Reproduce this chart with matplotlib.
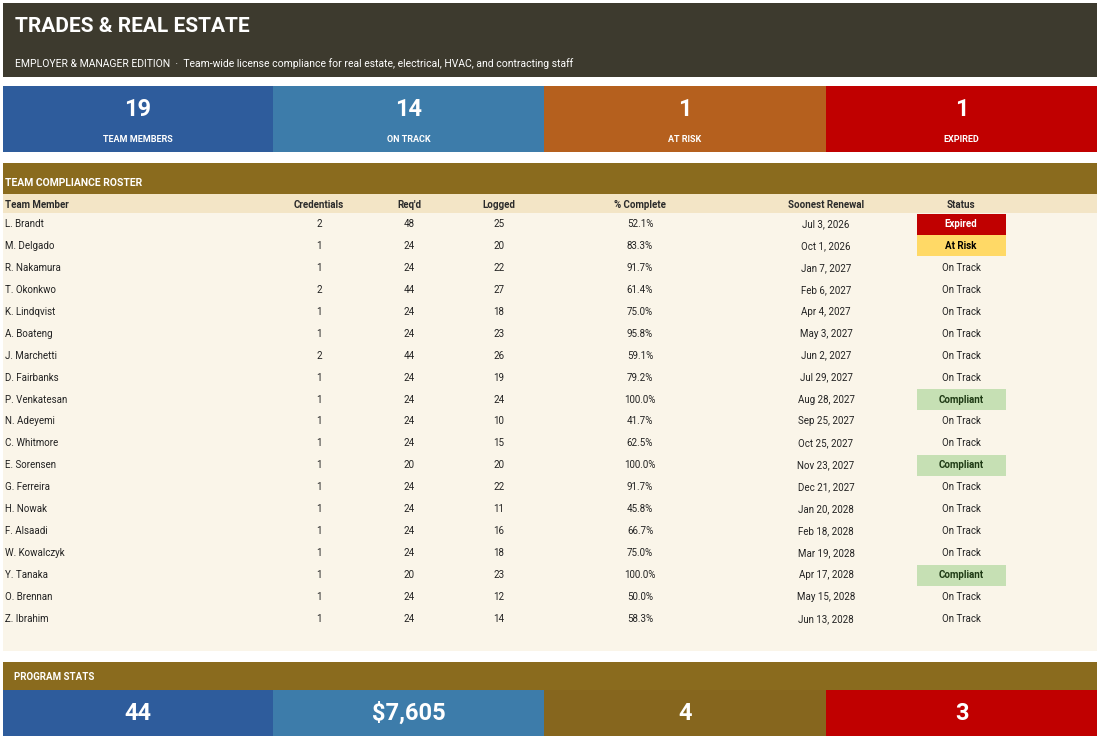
import matplotlib.pyplot as plt
from matplotlib.patches import Rectangle

plt.rcParams['font.family'] = ['Roboto', 'DejaVu Sans']

kpi_values = ['19', '14', '1', '1']
kpi_labels = ['TEAM MEMBERS', 'ON TRACK', 'AT RISK', 'EXPIRED']
stat_values = ['44', '$7,605', '4', '3']

columns = ['Team Member', 'Credentials', "Req'd", 'Logged', '% Complete', 'Soonest Renewal', 'Status']
names = ['L. Brandt', 'M. Delgado', 'R. Nakamura', 'T. Okonkwo', 'K. Lindqvist', 'A. Boateng',
         'J. Marchetti', 'D. Fairbanks', 'P. Venkatesan', 'N. Adeyemi', 'C. Whitmore', 'E. Sorensen',
         'G. Ferreira', 'H. Nowak', 'F. Alsaadi', 'W. Kowalczyk', 'Y. Tanaka', 'O. Brennan', 'Z. Ibrahim']
credentials = [2, 1, 1, 2, 1, 1, 2, 1, 1, 1, 1, 1, 1, 1, 1, 1, 1, 1, 1]
required = [48, 24, 24, 44, 24, 24, 44, 24, 24, 24, 24, 20, 24, 24, 24, 24, 20, 24, 24]
logged = [25, 20, 22, 27, 18, 23, 26, 19, 24, 10, 15, 20, 22, 11, 16, 18, 23, 12, 14]
renewals = ['Jul 3, 2026', 'Oct 1, 2026', 'Jan 7, 2027', 'Feb 6, 2027', 'Apr 4, 2027', 'May 3, 2027',
            'Jun 2, 2027', 'Jul 29, 2027', 'Aug 28, 2027', 'Sep 25, 2027', 'Oct 25, 2027', 'Nov 23, 2027',
            'Dec 21, 2027', 'Jan 20, 2028', 'Feb 18, 2028', 'Mar 19, 2028', 'Apr 17, 2028', 'May 15, 2028',
            'Jun 13, 2028']
statuses = ['Expired', 'At Risk', 'On Track', 'On Track', 'On Track', 'On Track', 'On Track', 'On Track',
            'Compliant', 'On Track', 'On Track', 'Compliant', 'On Track', 'On Track', 'On Track',
            'On Track', 'Compliant', 'On Track', 'On Track']

DARK = '#3D3A2E'
GOLD = '#8A6B1E'
tile_colors = ['#2E5C9C', '#3D7CAA', '#B5601E', '#C00000']
stat_colors = ['#2E5C9C', '#3D7CAA', '#86661E', '#C00000']
tile_x = [3, 273, 544, 826, 1097]
status_style = {'Expired': ('#C00000', 'white', 'bold'),
                'At Risk': ('#FFD966', 'black', 'bold'),
                'Compliant': ('#C6E0B4', '#1E3A14', 'bold'),
                'On Track': (None, '#222222', 'normal')}

fig = plt.figure(figsize=(11, 7.38), dpi=100)
ax = fig.add_axes([0, 0, 1, 1])
ax.set_xlim(0, 1100)
ax.set_ylim(738, 0)
ax.axis('off')


def box(x0, y0, x1, y1, color):
    ax.add_patch(Rectangle((x0, y0), x1 - x0, y1 - y0, facecolor=color, edgecolor='none'))


# header
box(3, 3, 1097, 77, DARK)
ax.text(15, 27, 'TRADES & REAL ESTATE', color='white', fontsize=15, fontweight='bold', va='center')
ax.text(15, 64, 'EMPLOYER & MANAGER EDITION  ·  Team-wide license compliance for real estate, '
        'electrical, HVAC, and contracting staff', color='white', fontsize=7.5, va='center')

# KPI tiles
for i in range(4):
    box(tile_x[i], 86, tile_x[i + 1], 152, tile_colors[i])
    cx = (tile_x[i] + tile_x[i + 1]) / 2
    ax.text(cx, 109, kpi_values[i], color='white', fontsize=17, fontweight='bold', ha='center', va='center')
    ax.text(cx, 140, kpi_labels[i], color='white', fontsize=6.5, fontweight='bold', ha='center', va='center')

# roster
box(3, 163, 1097, 194, GOLD)
ax.text(5, 183, 'TEAM COMPLIANCE ROSTER', color='white', fontsize=7.5, fontweight='bold', va='center')
box(3, 194, 1097, 213, '#F3E5C6')
box(3, 213, 1097, 651, '#FAF5E9')

col_x = [5, 319, 409, 499, 640, 826, 961]
for j, c in enumerate(columns):
    ax.text(col_x[j], 205, c, fontsize=7, fontweight='bold', color='#2B2B2B',
            ha='left' if j == 0 else 'center', va='center')

row_h = 21.94
for i in range(len(names)):
    y = 224 + i * row_h
    pct = logged[i] / required[i] * 100
    cells = [names[i], str(credentials[i]), str(required[i]), str(logged[i]),
             f'{min(pct, 100):.1f}%', renewals[i]]
    for j, v in enumerate(cells):
        ax.text(col_x[j], y, v, fontsize=7, color='#222222',
                ha='left' if j == 0 else 'center', va='center')
    bg, fg, fw = status_style[statuses[i]]
    if bg:
        box(917, y - 10.5, 1006, y + 10.5, bg)
    ax.text(961, y, statuses[i], fontsize=7, color=fg, fontweight=fw, ha='center', va='center')

# program stats
box(3, 662, 1097, 690, GOLD)
ax.text(14, 677, 'PROGRAM STATS', color='white', fontsize=7, fontweight='bold', va='center')
for i in range(4):
    box(tile_x[i], 690, tile_x[i + 1], 736, stat_colors[i])
    cx = (tile_x[i] + tile_x[i + 1]) / 2
    ax.text(cx, 713, stat_values[i], color='white', fontsize=17, fontweight='bold', ha='center', va='center')

fig.savefig('out.png', dpi=100, facecolor='white')
